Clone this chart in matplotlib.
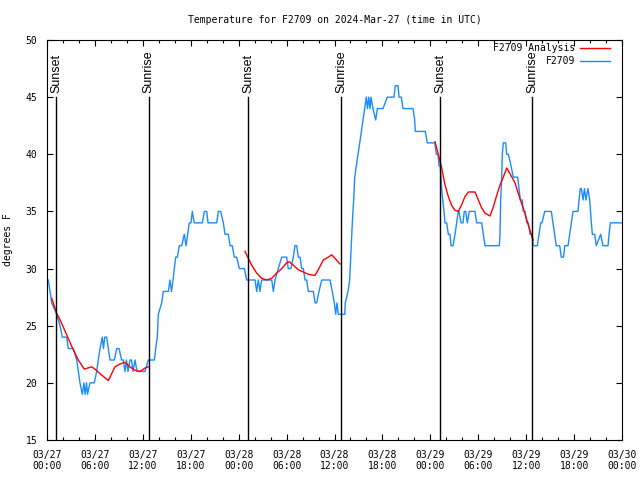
import matplotlib
matplotlib.use("Agg")
import matplotlib.pyplot as plt
from matplotlib.ticker import MultipleLocator

# hours since 2024-03-27 00:00 UTC
obs_hours = [0.16, 0.59, 1.21, 1.63, 1.92, 2.47, 2.67, 3.29, 3.72, 3.92, 4.13, 4.42, 4.63, 4.76,
             4.95, 5.07, 5.38, 5.92, 6.22, 6.42, 6.64, 6.92, 7.07, 7.23, 7.47, 7.68, 7.89, 8.43,
             8.73, 9.02, 9.35, 9.55, 9.77, 9.95, 10.14, 10.39, 10.58, 10.77, 11.02, 11.27, 11.65,
             12.27, 12.68, 13.44, 13.61, 13.81, 13.94, 14.36, 14.56, 15.19, 15.40, 15.59, 15.78,
             15.94, 16.12, 16.32, 16.57, 16.87, 17.19, 17.41, 17.62, 17.82, 18.03, 18.19, 18.44,
             19.45, 19.70, 20.00, 20.16, 21.25, 21.45, 21.75, 22.08, 22.29, 22.70, 22.92, 23.20,
             23.45, 23.75, 24.08, 24.71, 25.01, 26.05, 26.26, 26.46, 26.67, 26.88, 28.14, 28.34,
             28.55, 28.96, 29.39, 30.01, 30.21, 30.55, 30.84, 31.05, 31.27, 31.47, 31.68, 31.89,
             32.09, 32.31, 32.52, 32.72, 33.35, 33.56, 33.77, 34.06, 34.40, 35.44, 35.72, 35.98,
             36.15, 36.31, 36.48, 37.10, 37.28, 37.35, 37.69, 37.90, 38.10, 38.23, 38.40, 38.53,
             38.73, 38.94, 39.16, 39.36, 39.57, 39.78, 39.98, 40.13, 40.29, 40.45, 40.57, 40.82,
             41.16, 41.37, 42.07, 42.61, 43.45, 43.61, 43.95, 44.08, 44.37, 44.58, 45.62, 45.83,
             46.04, 46.12, 47.21, 47.37, 47.62, 48.33, 48.55, 48.75, 48.96, 49.09, 49.24, 49.42,
             49.55, 49.71, 49.84, 50.05, 50.25, 50.46, 50.59, 50.84, 51.09, 51.30, 51.50, 51.59,
             51.84, 52.09, 52.25, 52.43, 52.63, 52.88, 53.59, 53.80, 54.43, 54.63, 54.85, 56.64,
             56.72, 56.81, 56.94, 57.01, 57.14, 57.44, 57.56, 57.77, 58.10, 58.39, 58.94, 59.10,
             59.27, 59.52, 59.64, 59.85, 60.07, 60.27, 60.48, 60.69, 60.89, 61.15, 61.40, 61.61,
             61.82, 61.98, 62.32, 62.40, 63.15, 63.36, 63.57, 63.77, 63.99, 64.20, 64.40, 64.68,
             64.83, 65.24, 65.45, 65.65, 65.87, 66.49, 66.62, 66.78, 66.91, 67.12, 67.30, 67.49,
             67.74, 67.96, 68.16, 68.29, 68.58, 68.78, 69.33, 69.62, 70.25, 70.38, 70.54, 72.0]
obs_temp = [29, 27, 26, 25, 24, 24, 23, 23, 22, 21, 20, 19, 20, 19,
            20, 19, 20, 20, 21, 22, 23, 24, 23, 24, 24, 23, 22, 22,
            23, 23, 22, 22, 21, 22, 21, 22, 22, 21, 22, 21, 21,
            21, 22, 22, 23, 24, 26, 27, 28, 28, 29, 28, 29,
            30, 31, 31, 32, 32, 33, 32, 33, 34, 34, 35, 34,
            34, 35, 35, 34, 34, 35, 35, 34, 33, 33, 32, 32,
            31, 31, 30, 30, 29, 29, 28, 29, 28, 29, 29, 28,
            29, 30, 31, 31, 30, 30, 31, 32, 32, 31, 31, 30,
            30, 29, 29, 28, 28, 27, 27, 28, 29, 29, 28, 27,
            26, 27, 26, 26, 26, 27, 28, 29, 32, 34, 36, 38,
            39, 40, 41, 42, 43, 44, 45, 44, 45, 44, 45, 44,
            43, 44, 44, 45, 45, 46, 46, 45, 45, 44, 44, 44,
            43, 42, 42, 42, 41, 41, 41, 40, 40, 39, 39, 37,
            36, 35, 34, 34, 33, 33, 32, 32, 33, 34, 35, 35,
            34, 34, 35, 35, 34, 35, 35, 34, 34, 33, 32, 32,
            33, 36, 38, 40, 41, 41, 40, 40, 39, 38, 38, 37,
            36, 36, 35, 35, 34, 34, 33, 33, 32, 32, 32, 33,
            34, 34, 35, 35, 35, 34, 33, 32, 32, 32, 31, 31,
            32, 32, 33, 34, 35, 35, 36, 37, 37, 36, 37, 36,
            37, 36, 34, 33, 33, 32, 33, 32, 32, 33, 34, 34]

# analysis, one piece per night
ana1_hours = [0.59, 1.21, 1.84, 3.09, 3.92, 4.67, 5.10, 5.60, 6.01, 6.64, 7.68, 8.51, 9.14,
              9.77, 10.39, 11.02, 11.65, 12.27, 12.68]
ana1_temp = [27.4, 26.1, 25.2, 23.2, 22.0, 21.2, 21.3, 21.4, 21.2, 20.8, 20.2, 21.4, 21.65,
             21.8, 21.4, 21.1, 21.0, 21.3, 21.4]
ana2_hours = [24.79, 25.21, 25.63, 26.26, 26.88, 27.51, 28.14, 28.76, 29.39, 30.01, 30.34,
              30.84, 31.47, 32.09, 32.72, 33.56, 33.97, 34.60, 35.22, 35.65, 36.06, 36.69]
ana2_temp = [31.5, 30.9, 30.3, 29.6, 29.15, 29.0, 29.15, 29.6, 30.0, 30.5, 30.6,
             30.3, 29.9, 29.7, 29.5, 29.4, 29.9, 30.75, 31.0, 31.2, 30.9, 30.4]
ana3_hours = [48.58, 49.00, 49.42, 49.84, 50.25, 50.68, 51.09, 51.50, 51.93, 52.34, 52.76,
              53.59, 54.01, 54.43, 54.85, 55.47, 55.89, 56.31, 56.72, 57.14, 57.56, 57.98,
              58.60, 59.23, 59.77, 60.27, 60.69, 60.89]
ana3_temp = [41.1, 40.0, 38.8, 37.3, 36.3, 35.5, 35.1, 35.0, 35.6, 36.3, 36.7,
             36.7, 36.0, 35.3, 34.85, 34.6, 35.4, 36.4, 37.3, 38.0, 38.8, 38.3,
             37.5, 36.1, 35.0, 33.8, 32.9, 32.5]

events = ["Sunset", "Sunrise", "Sunset", "Sunrise", "Sunset", "Sunrise"]
event_hours = [1.13, 12.76, 25.17, 36.81, 49.21, 60.73]

tick_hours = [0, 6, 12, 18, 24, 30, 36, 42, 48, 54, 60, 66, 72]
tick_labels = ["03/27\n00:00", "03/27\n06:00", "03/27\n12:00", "03/27\n18:00",
               "03/28\n00:00", "03/28\n06:00", "03/28\n12:00", "03/28\n18:00",
               "03/29\n00:00", "03/29\n06:00", "03/29\n12:00", "03/29\n18:00",
               "03/30\n00:00"]

mono = "DejaVu Sans Mono"
fig = plt.figure(figsize=(6.4, 4.8), dpi=100)
ax = fig.add_axes([47 / 640, 1 - 440 / 480, 575 / 640, 400 / 480])

ax.plot(obs_hours, obs_temp, color="#1a8cff", lw=1.0, label="F2709", zorder=2)
ax.plot(ana1_hours, ana1_temp, color="#ff0000", lw=1.0, label="F2709 Analysis", zorder=3)
ax.plot(ana2_hours, ana2_temp, color="#ff0000", lw=1.0, zorder=3)
ax.plot(ana3_hours, ana3_temp, color="#ff0000", lw=1.0, zorder=3)

for name, h in zip(events, event_hours):
    ax.plot([h, h], [15, 45], color="black", lw=1.0, zorder=4)
    ax.text(h, 45.4, name, rotation=90, ha="center", va="bottom",
            fontsize=9, family="Liberation Sans")

ax.set_xlim(0, 72)
ax.set_ylim(15, 50)
ax.set_xticks(tick_hours)
ax.set_xticklabels(tick_labels, family=mono, fontsize=7)
ax.xaxis.set_minor_locator(MultipleLocator(2))
ax.set_yticks(range(15, 51, 5))
for lab in ax.get_yticklabels():
    lab.set_family(mono)
    lab.set_fontsize(7)
ax.tick_params(which="both", direction="in", top=True, right=True, width=0.8)
ax.tick_params(which="major", length=4.5, pad=7)
ax.tick_params(which="minor", length=2.5)
for s in ax.spines.values():
    s.set_linewidth(0.8)

ax.set_ylabel("degrees F", family=mono, fontsize=7, labelpad=9)
fig.text(334.5 / 640, 1 - 20 / 480, "Temperature for F2709 on 2024-Mar-27 (time in UTC)",
         ha="center", va="center", family=mono, fontsize=7)

h, l = ax.get_legend_handles_labels()
ax.legend([h[1], h[0]], [l[1], l[0]], loc="upper right", markerfirst=False, frameon=False,
          bbox_to_anchor=(610 / 640, 1 - 43 / 480), bbox_transform=fig.transFigure,
          borderpad=0, borderaxespad=0, handlelength=3.1, handletextpad=0.5,
          labelspacing=0.3, prop={"family": mono, "size": 7})

fig.savefig("out.png", dpi=100)
